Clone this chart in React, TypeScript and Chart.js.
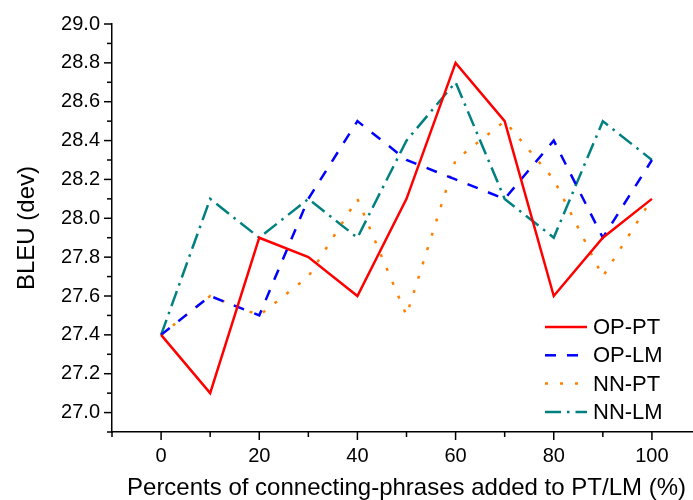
import React, { useEffect, useRef } from "react";
import { Chart, registerables } from "chart.js";

Chart.register(...registerables);

const percents = [0, 10, 20, 30, 40, 50, 60, 70, 80, 90, 100];
const opPT = [27.4, 27.1, 27.9, 27.8, 27.6, 28.1, 28.8, 28.5, 27.6, 27.9, 28.1];
const opLM = [27.4, 27.6, 27.5, 28.1, 28.5, 28.3, 28.2, 28.1, 28.4, 27.9, 28.3];
const nnPT = [27.4, 27.6, 27.5, 27.7, 28.1, 27.5, 28.3, 28.5, 28.2, 27.7, 28.1];
const nnLM = [27.4, 28.1, 27.9, 28.1, 27.9, 28.4, 28.7, 28.1, 27.9, 28.5, 28.3];
const seriesLabels = ["OP-PT", "OP-LM", "NN-PT", "NN-LM"];
const xTitle = "Percents of connecting-phrases added to PT/LM (%)";
const yTitle = "BLEU (dev)";

const FONT = "Arial, 'Liberation Sans', sans-serif";

const tickPlugin = {
  id: "customTicks",
  afterDraw(chart: any) {
    const ctx = chart.ctx;
    const xs = chart.scales.x;
    const ys = chart.scales.y;
    ctx.save();
    ctx.strokeStyle = "#000";
    ctx.lineWidth = 1.5;
    xs.ticks.forEach((t: any) => {
      const v = t.value;
      const major = Math.round(v) % 20 === 0 && v >= 0 && v <= 100;
      const px = xs.getPixelForValue(v);
      const len = major ? 8 : 5;
      ctx.beginPath();
      ctx.moveTo(px, xs.top);
      ctx.lineTo(px, xs.top + len);
      ctx.stroke();
    });
    ys.ticks.forEach((t: any) => {
      const v = t.value;
      const major = Math.round(v * 10) % 2 === 0;
      const py = ys.getPixelForValue(v);
      const len = major ? 8 : 5;
      ctx.beginPath();
      ctx.moveTo(ys.right, py);
      ctx.lineTo(ys.right - len, py);
      ctx.stroke();
    });
    ctx.restore();
  },
};

const legendPlugin = {
  id: "insideLegend",
  afterDraw(chart: any) {
    const ctx = chart.ctx;
    const x0 = 545;
    const x1 = 587;
    const tx = 593;
    const y0 = 327;
    const dy = 28.3;
    ctx.save();
    chart.data.datasets.forEach((ds: any, i: number) => {
      const y = y0 + i * dy;
      ctx.beginPath();
      ctx.strokeStyle = ds.borderColor;
      ctx.lineWidth = ds.borderWidth;
      ctx.lineCap = ds.borderCapStyle || "butt";
      ctx.setLineDash(ds.borderDash || []);
      ctx.moveTo(x0, y);
      ctx.lineTo(x1, y);
      ctx.stroke();
      ctx.setLineDash([]);
      ctx.fillStyle = "#000";
      ctx.font = `22px ${FONT}`;
      ctx.textBaseline = "middle";
      ctx.textAlign = "left";
      ctx.fillText(ds.label, tx, y + 1);
    });
    ctx.restore();
  },
};

export default function App() {
  const ref = useRef<HTMLCanvasElement>(null);
  useEffect(() => {
    const toPts = (arr: number[]) => percents.map((p, i) => ({ x: p, y: arr[i] }));
    const styles = [
      { borderColor: "#FF0000", borderDash: [] as number[] },
      { borderColor: "#0000FF", borderDash: [11, 11] },
      { borderColor: "#FF8000", borderDash: [3, 12] },
      { borderColor: "#008080", borderDash: [16, 6, 2.5, 6] },
    ];
    const all = [opPT, opLM, nnPT, nnLM];
    const chart = new Chart(ref.current as HTMLCanvasElement, {
      type: "line",
      data: {
        datasets: all.map((arr, i) => ({
          label: seriesLabels[i],
          data: toPts(arr),
          borderColor: styles[i].borderColor,
          backgroundColor: styles[i].borderColor,
          borderDash: styles[i].borderDash,
          borderWidth: 2.5,
          pointRadius: 0,
          tension: 0,
          fill: false,
        })),
      },
      options: {
        animation: false,
        responsive: false,
        devicePixelRatio: 1,
        layout: { padding: { top: 24, right: 19, left: 0, bottom: 0 } },
        plugins: { legend: { display: false }, tooltip: { enabled: false } },
        scales: {
          x: {
            type: "linear",
            min: -10,
            max: 110,
            afterFit: (s: any) => {
              s.height = 68;
            },
            grid: { drawOnChartArea: false, drawTicks: false },
            border: { display: true, color: "#000", width: 1.5 },
            ticks: {
              stepSize: 10,
              autoSkip: false,
              maxRotation: 0,
              padding: 12,
              color: "#000",
              font: { family: FONT, size: 20 },
              callback: (v: any) => {
                const n = Math.round(Number(v));
                return n % 20 === 0 && n >= 0 && n <= 100 ? String(n) : "";
              },
            },
            title: {
              display: true,
              text: xTitle,
              color: "#000",
              font: { family: FONT, size: 24 },
              padding: { top: 0, bottom: -3 },
            },
          },
          y: {
            type: "linear",
            min: 26.9,
            max: 29.0,
            afterFit: (s: any) => {
              s.width = 112;
            },
            grid: { drawOnChartArea: false, drawTicks: false },
            border: { display: true, color: "#000", width: 1.5 },
            ticks: {
              stepSize: 0.1,
              autoSkip: false,
              padding: 12,
              color: "#000",
              font: { family: FONT, size: 20 },
              callback: (v: any) => {
                const n = Math.round(Number(v) * 10);
                return n % 2 === 0 ? (n / 10).toFixed(1) : "";
              },
            },
            title: {
              display: true,
              text: yTitle,
              color: "#000",
              font: { family: FONT, size: 24 },
              padding: { top: 13, bottom: 0 },
            },
          },
        },
      },
      plugins: [tickPlugin, legendPlugin],
    });
    return () => chart.destroy();
  }, []);
  return (
    <div
      style={{
        position: "fixed",
        left: 0,
        top: 0,
        width: 693,
        height: 500,
        overflow: "hidden",
        background: "#fff",
      }}
    >
      <canvas ref={ref} width={720} height={500} style={{ display: "block" }} />
    </div>
  );
}
